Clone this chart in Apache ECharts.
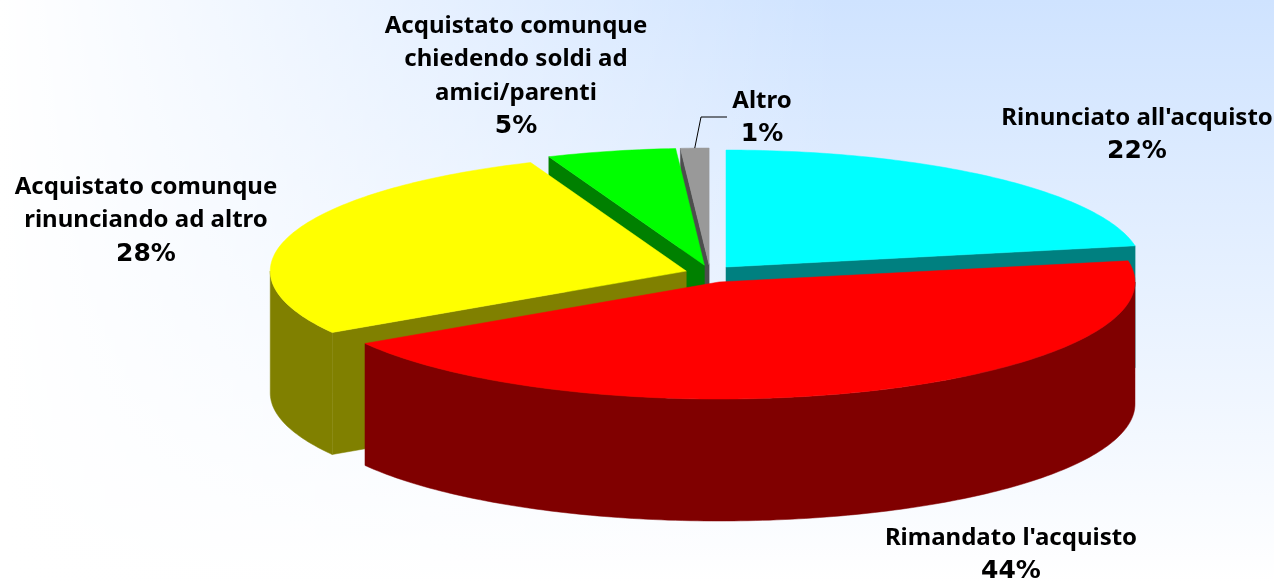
<!DOCTYPE html>
<html>
<head>
<meta charset="utf-8">
<title>Acquisto</title>
<style>
  html, body { margin: 0; padding: 0; width: 1274px; height: 582px; overflow: hidden; }
  body {
    background:
      linear-gradient(to right, #ffffff 0, rgba(255, 255, 255, 0) 840px),
      linear-gradient(to bottom, #cfe3ff 0, #ffffff 100%);
  }
  #main { width: 1274px; height: 582px; }
</style>
<script src="https://cdn.jsdelivr.net/npm/echarts@6/dist/echarts.min.js"></script>
</head>
<body>
<div id="main"></div>
<script>
// dati
var categories = [
  'Rinunciato all\'acquisto',
  'Rimandato l\'acquisto',
  'Acquistato comunque\nrinunciando ad altro',
  'Acquistato comunque\nchiedendo soldi ad\namici/parenti',
  'Altro'
];
var values = [22.1, 44.1, 27.7, 5.0, 1.1];
var topColors = ['#00ffff', '#ff0000', '#ffff00', '#00ff00', '#999999'];
var sideColors = ['#008080', '#800000', '#808000', '#008000', '#4d4d4d'];

// ordine di disegno, da dietro in avanti
var drawOrder = [0, 4, 3, 2, 1];
// centro delle etichette
var labelX = [1137, 1011, 146, 516, 762];
var labelY = [135, 555, 220.5, 76, 118];

// geometria della torta
var centerX = 710;
var centerY = 273.8;
var radiusX = 416;
var radiusY = 117;
var explodeX = 25;
var explodeY = 8.8;
var depth = 122;

var total = values.reduce(function (a, b) { return a + b; }, 0);

function sliceAngles(index) {
  var before = 0;
  for (var i = 0; i < index; i++) {
    before += values[i];
  }
  return [before / total * 360, (before + values[index]) / total * 360];
}

function rad(deg) {
  return deg * Math.PI / 180;
}

function sliceCenter(index) {
  var a = sliceAngles(index);
  var mid = rad((a[0] + a[1]) / 2);
  return [centerX + explodeX * Math.sin(mid), centerY - explodeY * Math.cos(mid)];
}

function rimPoint(c, deg) {
  return [c[0] + radiusX * Math.sin(rad(deg)), c[1] - radiusY * Math.cos(rad(deg))];
}

function arcPoints(c, from, to) {
  var pts = [];
  for (var t = from; t < to; t += 1) {
    pts.push(rimPoint(c, t));
  }
  pts.push(rimPoint(c, to));
  return pts;
}

function polygon(points, color) {
  return {
    type: 'polygon',
    shape: { points: points },
    style: { fill: color, stroke: color, lineWidth: 0.5 },
    silent: true
  };
}

function radialWall(c, deg, color) {
  var p = rimPoint(c, deg);
  return polygon([c, p, [p[0], p[1] + depth], [c[0], c[1] + depth]], color);
}

function renderSlice(params, api) {
  var index = api.value(0);
  var angles = sliceAngles(index);
  var c = sliceCenter(index);
  var children = [];
  // pareti laterali
  if (angles[0] >= 180) {
    children.push(radialWall(c, angles[0], sideColors[index]));
  }
  if (angles[1] <= 180) {
    children.push(radialWall(c, angles[1], sideColors[index]));
  }
  var from = Math.max(angles[0], 90);
  var to = Math.min(angles[1], 270);
  if (from < to) {
    var rim = arcPoints(c, from, to);
    var lower = rim.map(function (p) {
      return [p[0], p[1] + depth];
    }).reverse();
    children.push(polygon(rim.concat(lower), sideColors[index]));
  }
  // faccia superiore
  children.push(polygon([c].concat(arcPoints(c, angles[0], angles[1])), topColors[index]));
  return { type: 'group', children: children };
}

function renderLabel(params, api) {
  var index = api.value(0);
  var lines = categories[index].split('\n').map(function (line) {
    return '{name|' + line + '}';
  });
  lines.push('{pct|' + Math.round(values[index]) + '%}');
  return {
    type: 'text',
    silent: true,
    style: {
      x: labelX[index],
      y: labelY[index],
      text: lines.join('\n'),
      align: 'center',
      verticalAlign: 'middle',
      fill: '#000000',
      rich: {
        name: {
          fontFamily: '"Noto Sans", sans-serif',
          fontWeight: 'bold',
          fontSize: 24,
          lineHeight: 33.5
        },
        pct: {
          fontFamily: '"DejaVu Sans", sans-serif',
          fontWeight: 'bold',
          fontSize: 25,
          lineHeight: 33.5
        }
      }
    }
  };
}

// linea guida di "Altro"
function renderLeader(params, api) {
  var index = api.value(0);
  var angles = sliceAngles(index);
  var start = rimPoint(sliceCenter(index), (angles[0] + angles[1]) / 2);
  return {
    type: 'polyline',
    silent: true,
    shape: { points: [start, [701, 117], [727, 117]] },
    style: { fill: null, stroke: '#000000', lineWidth: 1 }
  };
}

var myChart = echarts.init(document.getElementById('main'));
myChart.setOption({
  animation: false,
  backgroundColor: 'transparent',
  series: [
    {
      type: 'custom',
      coordinateSystem: 'none',
      renderItem: renderSlice,
      data: drawOrder.map(function (i) { return [i]; }),
      z: 1
    },
    {
      type: 'custom',
      coordinateSystem: 'none',
      renderItem: renderLeader,
      data: [[4]],
      z: 2
    },
    {
      type: 'custom',
      coordinateSystem: 'none',
      renderItem: renderLabel,
      data: categories.map(function (c, i) { return [i]; }),
      z: 3
    }
  ]
});
</script>
</body>
</html>
